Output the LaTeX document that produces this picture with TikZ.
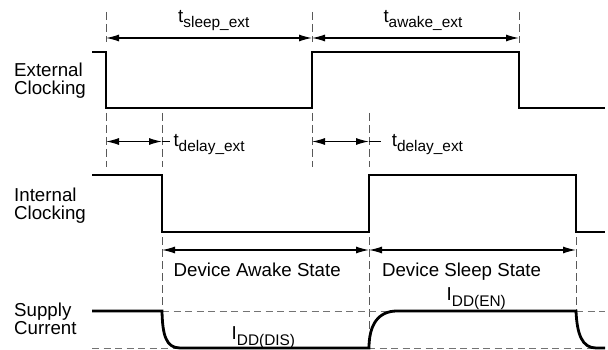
\documentclass[tikz,border=0pt]{standalone}
\usepackage{fontspec}
\setmainfont{Liberation Sans}
\usetikzlibrary{arrows.meta}
\newcommand\subfnt{\fontsize{15.4}{16}\selectfont}
\newcommand\mysub[1]{\raisebox{-5.3pt}{\subfnt #1}}
\begin{document}
\begin{tikzpicture}[x=1pt,y=-1pt,
  wave/.style={line width=2.8pt, line join=miter},
  dim/.style={line width=1.2pt, {Latex[length=13pt,width=7pt]}-{Latex[length=13pt,width=7pt]}},
  stub/.style={line width=1.2pt},
  guide/.style={line width=0.9pt, black!65, dash pattern=on 8pt off 4pt},
  level/.style={line width=1pt, black!55, dash pattern=on 7pt off 4.5pt},
  lbl/.style={font=\fontsize{18.7}{18}\selectfont, inner sep=0pt, anchor=base west},
  side/.style={font=\fontsize{18.7}{18}\selectfont, inner sep=0pt, anchor=north west, align=left}]
\useasboundingbox (0,0) rectangle (608,350);

% side labels
\node[side] (ext) at (14,62.4) {External\\Clocking};
\node[side] (int) at (14,187.4) {Internal\\Clocking};
\node[side] (sup) at (14,302.5) {Supply\\Current};

% guide lines (vertical dashed)
\draw[guide] (106,12) -- (106,42);
\draw[guide] (312,12) -- (312,42);
\draw[guide] (519,12) -- (519,43);
\draw[guide] (106,113) -- (106,167);
\draw[guide] (162,113) -- (162,167);
\draw[guide] (312,113) -- (312,167);
\draw[guide] (369,113) -- (369,167);
\draw[guide] (162,237) -- (162,306);
\draw[guide] (369,237) -- (369,348);
\draw[guide] (576,237) -- (576,311);

% current levels
\draw[level] (92,348) -- (605,348);
\draw[level] (162,311) -- (605,311);

% waveforms
\draw[wave] (92,52) -- (106,52) -- (106,108) -- (312,108) -- (312,52) -- (519,52) -- (519,108) -- (605,108);
\draw[wave] (92,175) -- (162,175) -- (162,232) -- (369,232) -- (369,175) -- (576,175) -- (576,232) -- (605,232);
\draw[wave] (92,311) -- (162,311) .. controls (162.5,335) and (166,348) .. (180,348) -- (369,348)
  .. controls (369,325) and (378,311) .. (397,311) -- (576,311)
  .. controls (577,334) and (582,348) .. (596,348) -- (605,348);

% dimension coordinates
\coordinate (s1) at (106,38);
\coordinate (s2) at (312,38);
\coordinate (s3) at (519,38);
\coordinate (d1a) at (106,141.5);
\coordinate (d1b) at (162,141.5);
\coordinate (d1c) at (170,141.5);
\coordinate (d2a) at (312,141.5);
\coordinate (d2b) at (369,141.5);
\coordinate (d2c) at (381,141.5);
\coordinate (st1) at (162,250);
\coordinate (st2) at (369,250);
\coordinate (st3) at (576,250);

\draw[dim] (s1) -- (s2);
\draw[dim] (s2) -- (s3);
\draw[dim] (d1a) -- (d1b);
\draw[stub] (d1b) -- (d1c);
\draw[dim] (d2a) -- (d2b);
\draw[stub] (d2b) -- (d2c);
\draw[dim] (st1) -- (st2);
\draw[dim] (st2) -- (st3);

% labels
\node[lbl] (tsleep) at (178,22.3) {t\mysub{sleep\_ext}};
\node[lbl] (tawake) at (383.3,22.3) {t\mysub{awake\_ext}};
\node[lbl] (tdel1) at (173.3,146.5) {t\mysub{delay\_ext}};
\node[lbl] (tdel2) at (391.7,146.5) {t\mysub{delay\_ext}};
\node[lbl] (idis) at (231.5,339.8) {I\mysub{DD(DIS)}};
\node[lbl] (ien) at (446.5,300.7) {I\mysub{DD(EN)}};
\node[lbl] (awake) at (173.5,276) {Device Awake State};
\node[lbl] (sleep) at (381.8,276) {Device Sleep State};
\end{tikzpicture}
\end{document}
